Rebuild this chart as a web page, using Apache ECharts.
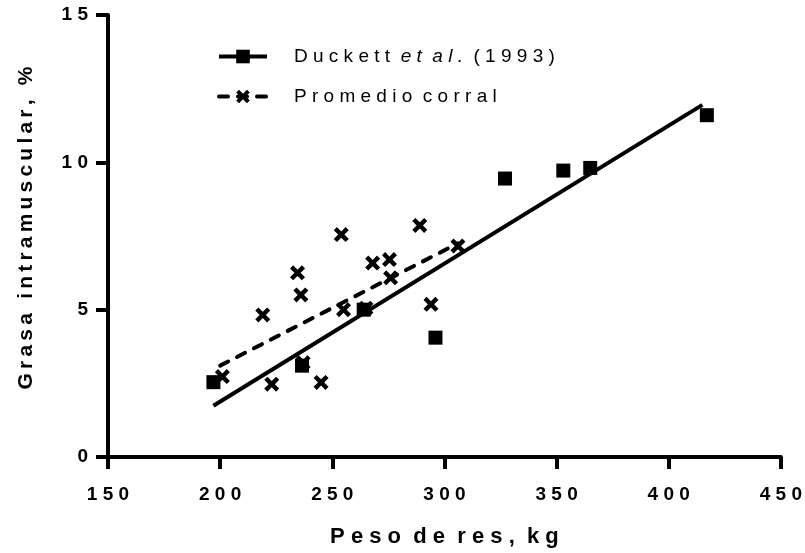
<!DOCTYPE html>
<html>
<head>
<meta charset="utf-8">
<script src="https://cdn.jsdelivr.net/npm/echarts@6/dist/echarts.min.js"></script>
<style>
  html, body { margin: 0; padding: 0; background: #fff; }
  #chart { width: 805px; height: 553px; }
</style>
</head>
<body>
<div id="chart"></div>
<script>
// Duckett et al. (1993) points and regression line
const duckettX = [197, 236.5, 264, 296, 327, 353, 365, 417]
const duckettY = [2.54, 3.1, 5.0, 4.05, 9.45, 9.72, 9.81, 11.6]
const duckettFit = [[197, 1.74], [415, 11.95]]

// Promedio corral points and regression line
const corralX = [201, 219, 223, 234.5, 236, 237, 245, 254, 255, 265, 268, 275.5, 276, 289, 294, 306]
const corralY = [2.73, 4.82, 2.47, 6.25, 5.5, 3.2, 2.53, 7.55, 5.0, 5.05, 6.58, 6.7, 6.08, 7.86, 5.18, 7.16]
const corralFit = [[200, 3.1], [306, 7.25]]

const xTicks = { min: 150, max: 450, step: 50 }
const yTicks = { min: 0, max: 15, step: 5 }

const FONT = 'Liberation Sans, Arial, sans-serif'
const X_MARK = 'path://M0,2.1 L2.1,0 L5,2.9 L7.9,0 L10,2.1 L7.1,5 L10,7.9 L7.9,10 L5,7.1 L2.1,10 L0,7.9 L2.9,5 Z'

// poor man's letter spacing
const spaced = s => s.split('').join(' ').replace(/   /g, '  ')
const thinSpaced = s => s.split(' ').map(w => w.split('').join('\u2009')).join('\u2009 \u2009')

const pairs = (xs, ys) => xs.map((x, i) => [x, ys[i]])

const chart = echarts.init(document.getElementById('chart'))

const axisCommon = {
  axisLine: { show: true, lineStyle: { color: '#000', width: 4 } },
  axisTick: { show: true, length: 12, lineStyle: { color: '#000', width: 4 } },
  splitLine: { show: false },
  nameLocation: 'middle',
}

chart.setOption({
  animation: false,
  backgroundColor: '#fff',
  grid: { left: 108, right: 24, top: 15, bottom: 95, containLabel: false },
  legend: {
    orient: 'vertical',
    left: 212,
    top: 42,
    itemWidth: 48,
    itemHeight: 17,
    itemGap: 21,
    lineStyle: { width: 4 },
    data: ['Duckett et al. (1993)', 'Promedio corral'],
    formatter: name => {
      if (name === 'Duckett et al. (1993)') {
        return '{n|' + spaced('Duckett') + '  }{i|' + spaced('et al.') + '}{n|  ' + spaced('(1993)') + '}'
      }
      return '{n|' + spaced(name) + '}'
    },
    textStyle: {
      padding: [0, 0, 0, 22],
      rich: {
        n: { color: '#000', fontFamily: FONT, fontSize: 19 },
        i: { color: '#000', fontFamily: FONT, fontSize: 19, fontStyle: 'italic' },
      },
    },
  },
  xAxis: {
    ...axisCommon,
    type: 'value',
    min: xTicks.min,
    max: xTicks.max,
    interval: xTicks.step,
    name: spaced('Peso de res, kg'),
    nameGap: 69,
    nameTextStyle: { color: '#000', fontFamily: FONT, fontWeight: 'bold', fontSize: 22 },
    axisLabel: {
      color: '#000', fontFamily: FONT, fontWeight: 'bold', fontSize: 19, margin: 28,
      formatter: v => spaced(String(v)),
    },
  },
  yAxis: {
    ...axisCommon,
    type: 'value',
    min: yTicks.min,
    max: yTicks.max,
    interval: yTicks.step,
    name: thinSpaced('Grasa intramuscular, %'),
    nameGap: 71,
    nameTextStyle: {
      color: '#000', fontFamily: FONT, fontWeight: 'bold', fontSize: 21,
      padding: [0, 0, 0, 16],
    },
    axisLabel: {
      color: '#000', fontFamily: FONT, fontWeight: 'bold', fontSize: 19, margin: 20,
      formatter: v => spaced(String(v)),
    },
  },
  series: [
    {
      name: 'Duckett et al. (1993)',
      type: 'line',
      data: duckettFit,
      symbol: 'rect',
      symbolSize: 14,
      showSymbol: false,
      lineStyle: { color: '#000', width: 4 },
      itemStyle: { color: '#000', opacity: 1 },
      z: 2,
    },
    {
      name: 'Promedio corral',
      type: 'line',
      data: corralFit,
      symbol: X_MARK,
      symbolSize: 15,
      showSymbol: false,
      lineStyle: { color: '#000', width: 4, type: [9, 10], cap: 'round' },
      itemStyle: { color: '#000', opacity: 1 },
      z: 2,
    },
    {
      name: 'Promedio corral',
      type: 'scatter',
      data: pairs(corralX, corralY),
      symbol: X_MARK,
      symbolSize: 15,
      itemStyle: { color: '#000', opacity: 1 },
      z: 3,
    },
    {
      name: 'Duckett et al. (1993)',
      type: 'scatter',
      data: pairs(duckettX, duckettY),
      symbol: 'rect',
      symbolSize: 14,
      itemStyle: { color: '#000', opacity: 1 },
      z: 4,
    },
  ],
})
</script>
</body>
</html>
